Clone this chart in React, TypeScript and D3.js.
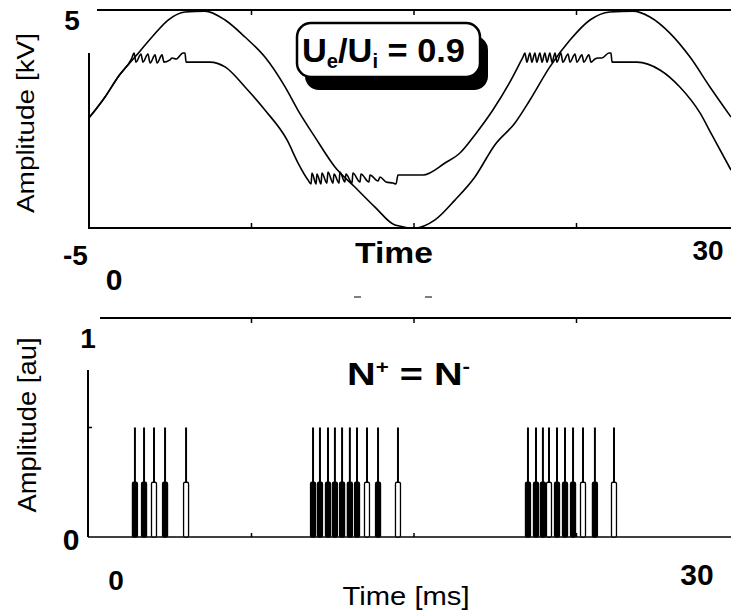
import React from "react";
import * as d3 from "d3";

// applied voltage (upper trace) [ms, kV]
const appliedT = [0, 0.74, 1.34, 2.12, 2.91, 3.65, 4.43, 5.35, 6.28, 7.2, 8.12, 9.05, 9.64, 10.43, 11.35, 12.27, 13.2, 14.12, 15.04, 15.97, 16.89, 17.81, 18.73, 19.66, 20.35, 21.27, 22.2, 23.12, 24.04, 25.1, 25.89, 26.81, 27.74, 28.66, 29.63];
const appliedV = [0.05, 1.01, 1.93, 2.84, 3.76, 4.54, 4.91, 4.95, 4.54, 3.76, 2.84, 1.47, 0.41, -0.83, -2.2, -3.12, -4.04, -4.86, -5.0, -4.63, -3.72, -2.66, -1.19, -0.18, 0.87, 2.39, 3.62, 4.54, 4.91, 4.95, 4.68, 3.94, 2.84, 1.47, 0.09];

// gas voltage (lower trace) [ms, kV]
const gasT = [0, 0.74, 1.34, 1.98, 2.08, 2.17, 2.4, 2.49, 2.72, 2.82, 3.05, 3.14, 3.37, 3.46, 3.74, 3.83, 4.02, 4.34, 4.43, 4.48, 5.58, 6.28, 7.2, 8.12, 9.14, 9.65, 10.11,
  10.25, 10.29, 10.48, 10.52, 10.71, 10.75, 10.98, 11.03, 11.26, 11.31, 11.54, 11.58, 11.81, 11.86, 12.14, 12.18, 12.51, 12.55, 12.92, 12.97, 13.34, 13.43, 13.71, 14.03, 14.17, 14.26, 15.41,
  16.43, 17.12, 17.81, 18.64, 19.43, 19.89, 20.03,
  20.12, 20.21, 20.35, 20.44, 20.58, 20.67, 20.81, 20.91, 21.04, 21.14, 21.27, 21.37, 21.51, 21.6, 21.78, 21.87, 22.11, 22.2, 22.43, 22.52, 22.75, 22.84, 23.07, 23.17, 23.35, 23.49, 23.67, 24.0, 24.09, 24.14, 25.29,
  26.35, 27.27, 28.2, 28.75, 29.63];
const gasV = [0.05, 1.01, 1.93, 2.8, 3.03, 2.61, 2.98, 2.61, 2.98, 2.57, 2.94, 2.57, 2.94, 2.61, 2.71, 2.8, 2.75, 3.03, 3.03, 2.61, 2.61, 2.39, 1.47, 0.41, -0.96, -2.02, -2.8,
  -2.98, -2.48, -2.98, -2.52, -2.98, -2.48, -2.94, -2.43, -2.94, -2.52, -2.94, -2.43, -2.89, -2.52, -2.94, -2.48, -2.89, -2.52, -2.89, -2.57, -2.84, -2.66, -2.89, -2.94, -2.98, -2.57, -2.57,
  -2.02, -1.56, -0.73, 0.41, 1.7, 2.57, 2.84,
  3.03, 2.61, 3.03, 2.61, 3.03, 2.61, 3.03, 2.61, 3.03, 2.61, 3.03, 2.61, 3.03, 2.61, 3.03, 2.61, 2.98, 2.61, 2.98, 2.61, 2.94, 2.61, 2.94, 2.61, 2.75, 2.8, 2.8, 3.03, 3.03, 2.61, 2.61,
  2.25, 1.47, 0.28, -0.73, -2.34];

// discharge pulses [ms]; filled = solid foot, else hollow
const pulseT = [2.12, 2.54, 3.0, 3.51, 4.48,
  10.34, 10.66, 11.03, 11.35, 11.68, 12.04, 12.37, 12.83, 13.34, 14.26,
  20.26, 20.63, 20.95, 21.23, 21.6, 21.97, 22.34, 22.8, 23.35, 24.23];
const pulseFilled = [1, 1, 0, 1, 0,
  1, 1, 1, 1, 1, 1, 1, 0, 1, 0,
  1, 1, 1, 0, 1, 1, 1, 0, 1, 0];
const pulsePeak = 0.5;
const pulseFoot = 0.25;

const xTicks = [7.5, 15, 22.5];

const FONT = "'Liberation Sans', Arial, Helvetica, sans-serif";

export default function App() {
  const x = d3.scaleLinear().domain([0, 30]).range([89, 739]);
  const yTop = d3.scaleLinear().domain([-5, 5]).range([228, 10]);
  const yBot = d3.scaleLinear().domain([0, 1]).range([537, 318]);

  const line = d3
    .line<[number, number]>()
    .x((d) => x(d[0]))
    .y((d) => yTop(d[1]))
    .curve(d3.curveMonotoneX);

  const applied = appliedT.map((t, i) => [t, appliedV[i]] as [number, number]);
  const gas = gasT.map((t, i) => [t, gasV[i]] as [number, number]);

  const bold = { fontFamily: FONT, fontWeight: 700 as const };

  return (
    <svg
      width={731}
      height={610}
      style={{ position: "absolute", left: 0, top: 0, background: "#fff" }}
    >
      <rect width={731} height={610} fill="#fff" />
      {/* ---------- top panel ---------- */}
      <g stroke="#000" fill="none">
        <line x1={97} x2={731} y1={yTop(5)} y2={yTop(5)} strokeWidth={2.2} />
        <line x1={89} x2={89} y1={53} y2={yTop(-5)} strokeWidth={2} />
        <line x1={88} x2={731} y1={yTop(-5)} y2={yTop(-5)} strokeWidth={2.2} />
        {xTicks.map((t) => (
          <g key={t}>
            <line x1={x(t)} x2={x(t)} y1={yTop(5)} y2={yTop(5) + 5} strokeWidth={1.5} />
            <line x1={x(t)} x2={x(t)} y1={yTop(-5)} y2={yTop(-5) - 5} strokeWidth={1.5} />
          </g>
        ))}
        <path d={line(applied) || ""} strokeWidth={1.6} />
        <path d={line(gas) || ""} strokeWidth={1.6} />
      </g>

      {/* label box */}
      <rect x={305} y={36} width={183} height={54} rx={14} fill="#000" />
      <rect x={297} y={23} width={183} height={54} rx={14} fill="#fff" stroke="#000" strokeWidth={2.5} />
      <text x={302} y={62} fontSize={34} {...bold} textLength={163} lengthAdjust="spacingAndGlyphs">
        U<tspan fontSize={20} dy={6}>e</tspan>
        <tspan dy={-6}>/U</tspan>
        <tspan fontSize={20} dy={6}>i</tspan>
        <tspan dy={-6}> = 0.9</tspan>
      </text>

      <text
        transform="translate(34,123) rotate(-90)"
        textAnchor="middle"
        fontFamily={FONT}
        fontSize={23}
        textLength={180}
        lengthAdjust="spacingAndGlyphs"
      >
        Amplitude [kV]
      </text>
      <text x={72} y={30} fontSize={28} textAnchor="middle" {...bold}>5</text>
      <text x={63} y={265} fontSize={28} {...bold}>-5</text>
      <text x={114} y={290} fontSize={30} textAnchor="middle" {...bold}>0</text>
      <text x={394} y={263} fontSize={30} textAnchor="middle" {...bold} textLength={78} lengthAdjust="spacingAndGlyphs">Time</text>
      <text x={708} y={260} fontSize={28} textAnchor="middle" {...bold}>30</text>
      <line x1={354} x2={361} y1={297} y2={297} stroke="#555" strokeWidth={1.5} />
      <line x1={425} x2={432} y1={297} y2={297} stroke="#555" strokeWidth={1.5} />

      {/* ---------- bottom panel ---------- */}
      <g stroke="#000" fill="none">
        <line x1={100} x2={731} y1={yBot(1)} y2={yBot(1)} strokeWidth={2.2} />
        <line x1={88} x2={88} y1={370} y2={yBot(0)} strokeWidth={2} />
        <line x1={88} x2={92} y1={yBot(0.5)} y2={yBot(0.5)} strokeWidth={1.5} />
        <line x1={88} x2={731} y1={yBot(0)} y2={yBot(0)} strokeWidth={1.5} />
        {xTicks.map((t) => (
          <g key={t}>
            <line x1={x(t)} x2={x(t)} y1={yBot(1)} y2={yBot(1) + 5} strokeWidth={1.5} />
            <line x1={x(t)} x2={x(t)} y1={yBot(0)} y2={yBot(0) - 4} strokeWidth={1.5} />
          </g>
        ))}
      </g>
      {pulseT.map((t, i) => (
        <g key={i}>
          <line x1={x(t)} x2={x(t)} y1={yBot(0)} y2={yBot(pulsePeak)} stroke="#000" strokeWidth={2} />
          <rect
            x={x(t) - 2.5}
            y={yBot(pulseFoot)}
            width={5}
            height={yBot(0) - yBot(pulseFoot)}
            rx={1.5}
            fill={pulseFilled[i] ? "#000" : "#fff"}
            stroke="#000"
            strokeWidth={1.3}
          />
        </g>
      ))}

      <text
        transform="translate(36,425) rotate(-90)"
        textAnchor="middle"
        fontFamily={FONT}
        fontSize={26}
        textLength={175}
        lengthAdjust="spacingAndGlyphs"
      >
        Amplitude [au]
      </text>
      <text x={88} y={348} fontSize={28} textAnchor="middle" {...bold}>1</text>
      <text x={71} y={550} fontSize={30} textAnchor="middle" {...bold}>0</text>
      <text x={116} y={590} fontSize={28} textAnchor="middle" {...bold}>0</text>
      <text x={697} y={585} fontSize={30} textAnchor="middle" {...bold}>30</text>
      <text x={406} y={605} fontSize={26} textAnchor="middle" fontFamily={FONT} textLength={127} lengthAdjust="spacingAndGlyphs">
        Time [ms]
      </text>
      <text x={347} y={385} fontSize={32} {...bold} textLength={123} lengthAdjust="spacingAndGlyphs">
        N<tspan fontSize={18} dy={-12}>+</tspan>
        <tspan dy={12}> = N</tspan>
        <tspan fontSize={18} dy={-12}>-</tspan>
      </text>
    </svg>
  );
}
